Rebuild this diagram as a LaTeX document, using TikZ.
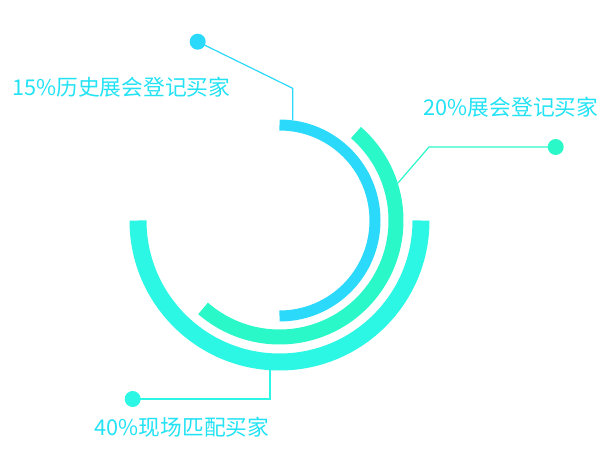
\documentclass[tikz,border=0pt]{standalone}
\usepackage{fontspec}
\setmainfont{Noto Sans CJK SC}
\usetikzlibrary{calc}
\definecolor{arcblue}{HTML}{2BD9FB}
\definecolor{arcgreen}{HTML}{2AF8C9}
\definecolor{arccyan}{HTML}{2BF7E4}
\definecolor{txtcyan}{HTML}{22E2F4}
\tikzset{
  dot/.style={circle, fill=#1, draw=none, minimum size=12pt, inner sep=0pt},
  conn/.style={draw=#1, line width=0.9pt},
  lbl/.style={anchor=base west, inner sep=0pt, text=txtcyan, font=\fontsize{16.3pt}{19pt}\selectfont}
}
\begin{document}
\begin{tikzpicture}[x=0.75pt, y=0.75pt]
\useasboundingbox (0,0) rectangle (600,458);
\coordinate (C) at (279.5,237.5);
% arcs
\draw[arcblue, line width=8.25pt] ([shift={(90:95.5)}]C) arc[start angle=90, end angle=-90, radius=95.5];
\draw[arcgreen, line width=11.25pt] ([shift={(49:116.5)}]C) arc[start angle=49, end angle=-131, radius=116.5];
\draw[arccyan, line width=12.75pt] ([shift={(180:141.5)}]C) arc[start angle=180, end angle=360, radius=141.5];
% connector points
\coordinate (bA) at (292.7,338);
\coordinate (bB) at (292.7,369.7);
\coordinate (gA) at (398,275);
\coordinate (gB) at (429,311);
\coordinate (oA) at (270,88);
\coordinate (oB) at (270,59);
% dots
\node[dot=arcblue] (bd) at (197.7,416.3) {};
\node[dot=arcgreen] (gd) at (555.7,311) {};
\node[dot=arccyan] (od) at (132.7,59) {};
% connectors
\draw[conn=arcblue] (bA) -- (bB) -- (bd.center);
\draw[conn=arcgreen] (gA) -- (gB) -- (gd.center);
\draw[conn=arccyan] (oA) -- (oB) -- (od.center);
% labels
\node[lbl] (t1) at (12,363) {15\%历史展会登记买家};
\node[lbl] (t2) at (423.5,342) {20\%展会登记买家};
\node[lbl] (t3) at (94.5,22.3) {40\%现场匹配买家};
\end{tikzpicture}
\end{document}
